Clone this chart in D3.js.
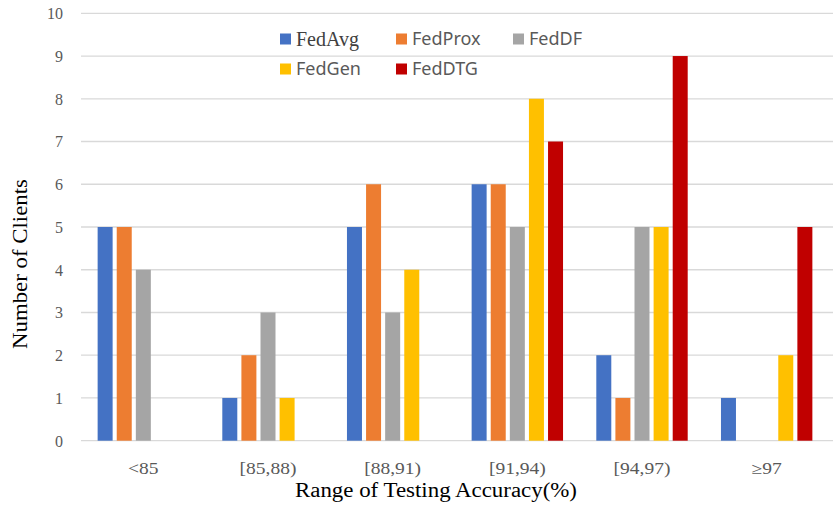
<!DOCTYPE html>
<html lang="en">
<head>
    <meta charset="UTF-8">
    <title>Number of Clients by Testing Accuracy</title>
    <script src="https://d3js.org/d3.v7.min.js"></script>
    <style>
        body { margin: 0; background: #fff; }
        .tick text { fill: #595959; font-family: "Liberation Serif", "Times New Roman", serif; font-size: 16px; }
        .grid line { stroke: #d9d9d9; stroke-width: 1.3; }
    </style>
</head>
<body>
<svg width="833" height="508"></svg>
<script>
    // Data
    const categories = ['<85', '[85,88)', '[88,91)', '[91,94)', '[94,97)', '≥97'];
    const methods = ['FedAvg', 'FedProx', 'FedDF', 'FedGen', 'FedDTG'];
    const fedAvg  = [5, 1, 5, 6, 2, 1];
    const fedProx = [5, 2, 6, 6, 1, 0];
    const fedDF   = [4, 3, 3, 5, 5, 0];
    const fedGen  = [0, 1, 4, 8, 5, 2];
    const fedDTG  = [0, 0, 0, 7, 9, 5];
    const yTicks = [0, 1, 2, 3, 4, 5, 6, 7, 8, 9, 10];

    const colors = ['#4472C4', '#ED7D31', '#A5A5A5', '#FFC000', '#C00000'];
    const seriesValues = [fedAvg, fedProx, fedDF, fedGen, fedDTG];

    const rows = categories.map((c, i) => ({
        cat: c,
        vals: methods.map((m, j) => ({ method: m, value: seriesValues[j][i] }))
    }));

    const svg = d3.select('svg');
    const plotLeft = 81, plotRight = 829, plotTop = 13.3, plotBottom = 440.7;

    const x0 = d3.scaleBand().domain(categories).range([plotLeft, plotRight]).padding(0);
    const groupW = 91.4;
    const x1 = d3.scaleBand().domain(methods)
        .range([(x0.bandwidth() - groupW) / 2, (x0.bandwidth() + groupW) / 2])
        .paddingInner(0.215).paddingOuter(0);
    const y = d3.scaleLinear().domain([0, 10]).range([plotBottom, plotTop]);

    // Gridlines
    svg.append('g')
        .attr('class', 'grid')
        .selectAll('line')
        .data(yTicks)
        .join('line')
        .attr('x1', plotLeft).attr('x2', 833)
        .attr('y1', d => y(d)).attr('y2', d => y(d));

    // Y axis labels
    const yAxis = svg.append('g')
        .attr('transform', `translate(${plotLeft - 18},0)`)
        .call(d3.axisLeft(y).tickValues(yTicks).tickSize(0).tickPadding(0));
    yAxis.select('.domain').remove();
    yAxis.selectAll('.tick text').attr('dy', '0.34em');

    // Bars
    svg.append('g')
        .selectAll('g')
        .data(rows)
        .join('g')
        .attr('transform', d => `translate(${x0(d.cat)},0)`)
        .selectAll('rect')
        .data(d => d.vals.filter(v => v.value > 0))
        .join('rect')
        .attr('x', d => x1(d.method))
        .attr('width', x1.bandwidth())
        .attr('y', d => y(d.value))
        .attr('height', d => y(0) - y(d.value))
        .attr('fill', d => colors[methods.indexOf(d.method)]);

    // X axis labels
    const xAxis = svg.append('g')
        .attr('transform', 'translate(0,474)')
        .call(d3.axisBottom(x0).tickSize(0).tickPadding(0));
    xAxis.select('.domain').remove();
    xAxis.selectAll('.tick text')
        .attr('y', 0).attr('dy', 0)
        .attr('transform', 'scale(1.22,1)');

    // Axis titles
    svg.append('text')
        .attr('x', 436).attr('y', 497)
        .attr('text-anchor', 'middle')
        .attr('textLength', 282)
        .attr('lengthAdjust', 'spacingAndGlyphs')
        .style('font-family', '"Liberation Serif", "Times New Roman", serif')
        .style('font-size', '20px')
        .attr('fill', '#000')
        .text('Range of Testing Accuracy(%)');

    svg.append('text')
        .attr('transform', 'translate(27,264) rotate(-90)')
        .attr('text-anchor', 'middle')
        .attr('textLength', 170)
        .attr('lengthAdjust', 'spacingAndGlyphs')
        .style('font-family', '"Liberation Serif", "Times New Roman", serif')
        .style('font-size', '20px')
        .attr('fill', '#000')
        .text('Number of Clients');

    // Legend
    const legendPos = [[280, 39], [396, 39], [513, 39], [280, 69], [396, 69]];
    const legend = svg.append('g')
        .selectAll('g')
        .data(methods)
        .join('g')
        .attr('transform', (d, i) => `translate(${legendPos[i][0]},${legendPos[i][1]})`);
    legend.append('rect')
        .attr('x', 0).attr('y', -5.5)
        .attr('width', 11).attr('height', 11)
        .attr('fill', (d, i) => colors[i]);
    legend.append('text')
        .attr('x', 16)
        .attr('dy', '0.35em')
        .style('font-family', d => d === 'FedAvg' ? '"Liberation Serif", serif' : '"Noto Sans", "Open Sans", sans-serif')
        .style('font-size', d => d === 'FedAvg' ? '20px' : '18px')
        .attr('fill', d => d === 'FedAvg' ? '#404040' : '#595959')
        .text(d => d);
</script>
</body>
</html>
